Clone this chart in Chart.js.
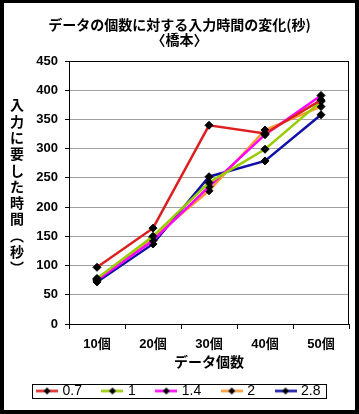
<!DOCTYPE html>
<html>
<head>
<meta charset="utf-8">
<script src="https://cdn.jsdelivr.net/npm/chart.js@4"></script>
<style>
  body { margin: 0; background: #fff; }
  #wrap { width: 359px; height: 414px; box-sizing: border-box; border: 4px solid #000; border-top-width: 3px; background: #fff; }
  canvas { display: block; }
</style>
</head>
<body>
<div id="wrap"><canvas id="c" width="351" height="407"></canvas></div>
<script>
// data
const categories = ['10個', '20個', '30個', '40個', '50個'];
const seriesNames = ['0.7', '1', '1.4', '2', '2.8'];
const values07 = [97, 164, 340, 326, 383];
const values10 = [78, 150, 242, 299, 381];
const values14 = [75, 143, 235, 324, 391];
const values20 = [76, 148, 228, 332, 372];
const values28 = [72, 137, 252, 279, 358];
const yTicks = [0, 50, 100, 150, 200, 250, 300, 350, 400, 450];
const titleLines = ['データの個数に対する入力時間の変化(秒)', '〈橋本〉'];
const xTitle = 'データ個数';
const yTitleChars = ['入', '力', 'に', '要', 'し', 'た', '時', '間', '︵', '秒', '︶'];

const colors = ['#dc2020', '#99cc00', '#ff00ff', '#ff9933', '#1010a8'];
const allValues = [values07, values10, values14, values20, values28];

const jpFont = '"Liberation Sans", "Noto Sans CJK JP", sans-serif';

// small line+diamond picture for each legend entry
function legendImage(color) {
    const c = document.createElement('canvas');
    c.width = 22;
    c.height = 13;
    const g = c.getContext('2d');
    g.strokeStyle = color;
    g.lineWidth = 2.5;
    g.beginPath();
    g.moveTo(0, 6.5);
    g.lineTo(22, 6.5);
    g.stroke();
    g.fillStyle = '#000';
    g.beginPath();
    g.moveTo(11, 3);
    g.lineTo(14.5, 6.5);
    g.lineTo(11, 10);
    g.lineTo(7.5, 6.5);
    g.closePath();
    g.fill();
    return c;
}
const legendImgs = colors.map(legendImage);

// y axis title written top to bottom
const yTitlePlugin = {
    id: 'yTitle',
    afterDraw(chart) {
        const ctx = chart.ctx;
        ctx.save();
        ctx.font = 'bold 14px "Noto Sans CJK JP", sans-serif';
        ctx.fillStyle = '#000';
        ctx.textAlign = 'center';
        ctx.textBaseline = 'middle';
        yTitleChars.forEach((ch, i) => {
            ctx.fillText(ch, 13, 102 + i * 16.3);
        });
        ctx.restore();
    }
};

// black frame round the plot and round the legend
const framePlugin = {
    id: 'frames',
    beforeDatasetsDraw(chart) {
        const a = chart.chartArea;
        const ctx = chart.ctx;
        ctx.save();
        ctx.strokeStyle = '#000';
        ctx.lineWidth = 1;
        ctx.strokeRect(Math.round(a.left) + 0.5, Math.round(a.top) + 0.5,
            Math.round(a.right - a.left) - 1, Math.round(a.bottom - a.top));
        ctx.restore();
    },
    afterDraw(chart) {
        const hb = chart.legend.legendHitBoxes;
        if (!hb || !hb.length) return;
        const last = hb[hb.length - 1];
        const left = Math.round(hb[0].left - 6.5) + 0.5;
        const right = Math.round(last.left + last.width + 6) + 0.5;
        const cy = hb[0].top + hb[0].height / 2;
        const ctx = chart.ctx;
        ctx.save();
        ctx.strokeStyle = '#000';
        ctx.lineWidth = 1;
        ctx.strokeRect(left, Math.round(cy - 7) + 0.5, right - left, 14);
        ctx.restore();
    }
};

new Chart(document.getElementById('c'), {
    type: 'line',
    data: {
        labels: categories,
        datasets: seriesNames.map((name, i) => ({
            label: name,
            data: allValues[i],
            borderColor: colors[i],
            backgroundColor: colors[i],
            borderWidth: 2.5,
            tension: 0,
            pointStyle: 'rectRot',
            pointRadius: 4,
            pointBackgroundColor: '#000',
            pointBorderColor: '#000',
            pointBorderWidth: 1
        }))
    },
    options: {
        responsive: false,
        animation: false,
        layout: { padding: { left: 6, right: 6, top: 0, bottom: 2 } },
        plugins: {
            title: {
                display: true,
                text: titleLines,
                color: '#000',
                font: { family: '"Noto Sans CJK JP", sans-serif', size: 14, weight: 'bold', lineHeight: '15px' },
                padding: { top: 14.5, bottom: 13.5 }
            },
            legend: {
                position: 'bottom',
                labels: {
                    usePointStyle: true,
                    pointStyleWidth: 17,
                    padding: 22,
                    color: '#000',
                    font: { family: '"Liberation Sans", sans-serif', size: 14 },
                    generateLabels(chart) {
                        const items = Chart.defaults.plugins.legend.labels.generateLabels(chart);
                        items.forEach((it, i) => { it.pointStyle = legendImgs[i]; });
                        return items;
                    }
                }
            },
            tooltip: { enabled: false }
        },
        scales: {
            x: {
                offset: true,
                afterFit(s) { s.height = 38; },
                grid: {
                    offset: true,
                    drawOnChartArea: false,
                    tickLength: 5,
                    tickColor: '#000'
                },
                border: { color: '#000', width: 1 },
                ticks: {
                    color: '#000',
                    padding: 7.5,
                    maxRotation: 0,
                    font: { family: jpFont, size: 13, weight: 'bold' }
                },
                title: {
                    display: true,
                    text: xTitle,
                    color: '#000',
                    font: { family: '"Noto Sans CJK JP", sans-serif', size: 14, weight: 'bold' },
                    padding: { top: 0, bottom: -8.4 }
                }
            },
            y: {
                min: yTicks[0],
                max: yTicks[yTicks.length - 1],
                afterFit(s) { s.width = 59; },
                afterBuildTicks(s) { s.ticks = yTicks.map(v => ({ value: v })); },
                grid: {
                    color: '#a0a0a0',
                    tickLength: 4,
                    tickColor: '#000'
                },
                border: { color: '#000', width: 1 },
                ticks: {
                    color: '#000',
                    padding: 7,
                    font: { family: '"Liberation Sans", sans-serif', size: 13, weight: 'bold' }
                }
            }
        }
    },
    plugins: [yTitlePlugin, framePlugin]
});
</script>
</body>
</html>
